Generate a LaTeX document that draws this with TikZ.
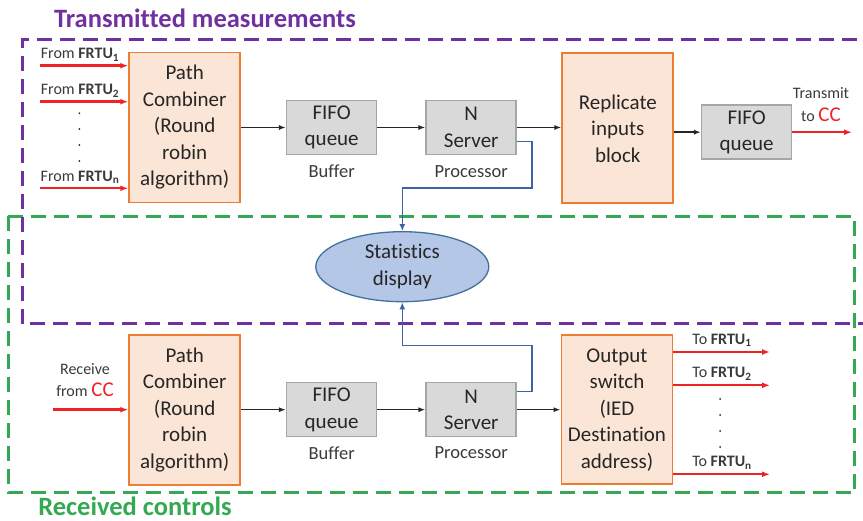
\documentclass[tikz,border=0pt]{standalone}
\usepackage{fontspec}
\setmainfont{Carlito}[Ligatures=CommonOff]
\usetikzlibrary{shapes.geometric, arrows.meta}

\definecolor{boxorange}{HTML}{FBE5D6}
\definecolor{lineorange}{HTML}{ED7D31}
\definecolor{boxgray}{HTML}{D9D9D9}
\definecolor{linegray}{HTML}{A6A6A6}
\definecolor{statfill}{HTML}{B4C7E7}
\definecolor{statline}{HTML}{41719C}
\definecolor{linkblue}{HTML}{3F63A8}
\definecolor{sigred}{HTML}{EE2326}
\definecolor{tmpurple}{HTML}{7030A0}
\definecolor{rcgreen}{HTML}{34A853}
\definecolor{textdark}{HTML}{262626}
\definecolor{textgray}{HTML}{3A3A3A}

\newcommand{\boxfont}{\fontsize{21}{26.5}\selectfont}
\newcommand{\lblfont}{\fontsize{16}{22.5}\selectfont}
\newcommand{\ttlfont}{\fontsize{26.5}{32}\selectfont\bfseries}

\begin{document}
\begin{tikzpicture}[x=1pt, y=-1pt,
    combiner/.style={draw=lineorange, fill=boxorange, line width=1.8pt, minimum width=111pt,
      minimum height=150pt, align=center, font=\boxfont, text=textdark, inner sep=0pt},
    queue/.style={draw=linegray, fill=boxgray, line width=1.5pt, minimum width=90pt,
      minimum height=54pt, align=center, font=\boxfont, text=textdark, inner sep=0pt},
    stat/.style={ellipse, draw=statline, fill=statfill, line width=1.3pt, minimum width=173pt,
      minimum height=70pt, align=center, font=\boxfont, text=textdark, inner sep=0pt},
    note/.style={font=\fontsize{18.5}{22}\selectfont, text=textgray, inner sep=0pt},
    port/.style={font=\lblfont, text=textgray, inner sep=0pt, align=center},
    title/.style={font=\ttlfont, inner sep=0pt},
    frame/.style={dash pattern=on 15pt off 8pt, line width=3pt},
    flow/.style={draw=textdark, line width=1.6pt, -{Latex[length=7pt,width=5pt]}},
    sig/.style={draw=sigred, line width=2.4pt, -{Latex[length=8pt,width=6pt]}},
    stats/.style={draw=linkblue, line width=1.6pt, -{Latex[length=7pt,width=6pt]}}]

  \useasboundingbox (0,0) rectangle (863,521);

  % dashed frames
  \draw[frame, rcgreen] (8,216.5) rectangle (854.5,493);
  \draw[frame, tmpurple] (880,40) -| (22,324) -- (880,324);
  \node[title, text=tmpurple] (tmtitle) at (205,18) {Transmitted measurements};
  \node[title, text=rcgreen] (rctitle) at (135,506) {Received controls};

  % transmitted measurements
  \node[combiner] (pc1) at (184.7,127.5) {Path\\Combiner\\(Round\\robin\\algorithm)};
  \node[queue] (fifo1) at (331.7,127.5) {FIFO\\queue};
  \node[queue] (srv1) at (471.2,127.5) {N\\Server};
  \node[combiner] (rep) at (617.8,128.3) {Replicate\\inputs\\block};
  \node[queue] (fifo3) at (746.7,132.2) {FIFO\\queue};
  \node[note] (buf1) at (331.7,171.7) {Buffer};
  \node[note] (proc1) at (471.2,171.7) {Processor};

  \foreach \i/\y in {1/65.7, 2/101.7, n/188.3} {
    \coordinate (in\i) at (40,\y);
    \draw[sig] (in\i) -- (in\i -| pc1.west);
    \node[port] (from\i) at (80,\y-11) {From \textbf{FRTU\textsubscript{\i}}};
  }
  \foreach \y in {113.3,129,145,161}
    \fill[textdark] (79.3,\y) circle (1pt);

  \draw[flow] (pc1) -- (fifo1);
  \draw[flow] (fifo1) -- (srv1);
  \draw[flow] (srv1) -- (srv1 -| rep.west);
  \draw[flow] (rep.east |- fifo3) -- (fifo3);
  \coordinate (cc1) at (852,132.2);
  \draw[sig] (fifo3) -- (cc1);
  \node[port] (txlbl) at (821,104.5) {Transmit\\to \textcolor{sigred}{\fontsize{21}{22.5}\selectfont CC}};

  % statistics
  \node[stat] (stat) at (402.3,266.7) {Statistics\\display};
  \draw[stats] ([yshift=-14pt]srv1.east) -| (531.7,188.3) -| (stat.north);

  % received controls
  \node[combiner] (pc2) at (184.7,409.7) {Path\\Combiner\\(Round\\robin\\algorithm)};
  \node[queue] (fifo2) at (331.7,409.7) {FIFO\\queue};
  \node[queue] (srv2) at (471.2,409.7) {N\\Server};
  \node[combiner, minimum height=149pt] (osw) at (617,409.7) {Output\\switch\\(IED\\Destination\\address)};
  \node[note] (buf2) at (331.7,453) {Buffer};
  \node[note] (proc2) at (471.2,453) {Processor};

  \node[port] (rxlbl) at (85,380) {Receive\\from \textcolor{sigred}{\fontsize{21}{22.5}\selectfont CC}};
  \coordinate (rx) at (53.3,409.7);
  \draw[sig] (rx) -- (pc2);
  \draw[flow] (pc2) -- (fifo2);
  \draw[flow] (fifo2) -- (srv2);
  \draw[flow] (srv2) -- (osw);
  \draw[stats] ([yshift=18pt]srv2.east) -| (531.7,345.7) -| (stat.south);

  \foreach \i/\y in {1/352, 2/385.3, n/474.3} {
    \coordinate (out\i) at (770,\y);
    \draw[sig] (osw.east |- out\i) -- (out\i);
    \node[port] (to\i) at (722,\y-11.5) {To \textbf{FRTU\textsubscript{\i}}};
  }
  \foreach \y in {399,415,431,447}
    \fill[textdark] (720,\y) circle (1pt);
\end{tikzpicture}
\end{document}
